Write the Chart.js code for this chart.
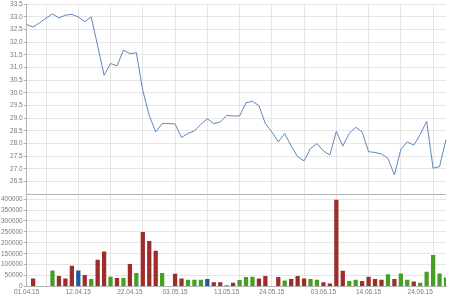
<!DOCTYPE html>
<html>
<head>
<meta charset="utf-8">
<script src="https://cdn.jsdelivr.net/npm/chart.js@4/dist/chart.umd.min.js"></script>
<style>
  html, body { margin: 0; padding: 0; background: #ffffff; }
  #wrap { position: relative; width: 450px; height: 300px; }
</style>
</head>
<body>
<div id="wrap"><canvas id="c" width="450" height="300"></canvas></div>
<script>
// ---- data ----
const slotCount = 66;
const categories = Array.from({ length: slotCount }, (_, i) => String(i));

const tickSlots  = [0, 8, 16, 23, 31, 38, 46, 53, 61];
const tickLabels = ['01.04.15', '12.04.15', '22.04.15', '03.05.15', '13.05.15',
                    '24.05.15', '03.06.15', '14.06.15', '24.06.15'];

const priceTicks  = [26.0, 26.5, 27.0, 27.5, 28.0, 28.5, 29.0, 29.5, 30.0, 30.5,
                     31.0, 31.5, 32.0, 32.5, 33.0, 33.5];
const volumeTicks = [0, 50000, 100000, 150000, 200000, 250000, 300000, 350000, 400000];

const price = [
  32.70, 32.60, 32.77, 32.95, 33.12, 32.96, 33.07, 33.10, 33.00, 32.81,
  33.00, 31.86, 30.70, 31.16, 31.07, 31.69, 31.55, 31.59, 30.09, 29.11,
  28.46, 28.79, 28.79, 28.78, 28.24, 28.40, 28.50, 28.76, 28.98, 28.79,
  28.85, 29.11, 29.09, 29.09, 29.61, 29.67, 29.50, 28.79, 28.46, 28.07,
  28.40, 27.90, 27.48, 27.32, 27.81, 28.00, 27.71, 27.55, 28.49, 27.90,
  28.40, 28.65, 28.46, 27.68, 27.65, 27.59, 27.42, 26.76, 27.77, 28.07,
  27.94, 28.36, 28.88, 27.03, 27.09, 28.16
];

const volume = [
  null, 37000, null, null, 73000, 48000, 37000, 95000, 73000, 53000,
  34000, 123000, 160000, 45000, 39000, 39000, 103000, 62000, 250000, 208000,
  164000, 62000, null, 58000, 37000, 31000, 31000, 31000, 34000, 20000,
  19000, 6000, 17000, 30000, 44000, 45000, 37000, 48000, null, 44000,
  27000, 34000, 48000, 37000, 34000, 31000, 20000, 14000, 397000, 72000,
  25000, 31000, 25000, 45000, 34000, 31000, 56000, 34000, 59000, 31000,
  23000, 17000, 67000, 144000, 59000, 41000
];

// d = down (red), u = up (green), f = flat (blue)
const direction = [
  'd','d','d','d','u','d','d','d','f','d',
  'u','d','d','u','d','u','d','u','d','d',
  'd','u','d','d','d','u','u','u','f','d',
  'd','u','d','u','u','u','d','d','d','d',
  'u','d','d','d','u','u','d','d','d','d',
  'u','u','d','d','d','d','u','d','u','u',
  'd','u','u','u','u','u'
];

// ---- styles ----
const dirColor = { d: '#9c2d2b', u: '#45a021', f: '#1d5a9e' };
const gridColor = '#e6e6e6';
const axisColor = '#b4b4b4';
const textColor = '#7a7a7a';
const tickFont = { family: "'Liberation Sans Narrow', 'Liberation Sans', Arial, sans-serif", size: 6.5, lineHeight: 1 };

new Chart(document.getElementById('c'), {
  data: {
    labels: categories,
    datasets: [
      {
        type: 'line',
        data: price,
        yAxisID: 'yPrice',
        borderColor: '#5f86bf',
        borderWidth: 1,
        pointRadius: 0,
        tension: 0,
        fill: false
      },
      {
        type: 'bar',
        data: volume,
        yAxisID: 'yVol',
        backgroundColor: direction.map(d => dirColor[d]),
        borderWidth: 0,
        categoryPercentage: 1,
        barPercentage: 0.66
      }
    ]
  },
  options: {
    responsive: false,
    animation: false,
    devicePixelRatio: 1,
    layout: { padding: { top: 0, right: 4, bottom: 3, left: 0 } },
    plugins: { legend: { display: false }, tooltip: { enabled: false } },
    scales: {
      x: {
        type: 'category',
        offset: false,
        grid: {
          offset: false,
          drawTicks: false,
          color: ctx => (ctx.index % 5 === 3 ? gridColor : 'rgba(0,0,0,0)')
        },
        border: { color: axisColor },
        ticks: {
          autoSkip: false,
          maxRotation: 0,
          padding: 2,
          color: textColor,
          font: tickFont,
          callback: (v, i) => {
            const k = tickSlots.indexOf(i);
            return k >= 0 ? tickLabels[k] : '';
          }
        }
      },
      yVol: {
        type: 'linear',
        position: 'left',
        stack: 'main',
        stackWeight: 92.9,
        min: 0,
        max: 422300,
        afterBuildTicks: axis => { axis.ticks = volumeTicks.map(v => ({ value: v })); },
        grid: { color: gridColor, tickLength: 3, tickColor: axisColor },
        border: { color: axisColor },
        ticks: {
          autoSkip: false,
          padding: 1,
          color: textColor,
          font: tickFont,
          callback: v => String(v)
        }
      },
      yPrice: {
        type: 'linear',
        position: 'left',
        stack: 'main',
        stackWeight: 191.4,
        min: 26,
        max: 33.5,
        afterBuildTicks: axis => { axis.ticks = priceTicks.map(v => ({ value: v })); },
        grid: {
          color: ctx => (ctx.tick && ctx.tick.value === 26 ? axisColor : gridColor),
          tickLength: 3,
          tickColor: ctx => (ctx.tick && ctx.tick.value === 26 ? 'rgba(0,0,0,0)' : axisColor)
        },
        border: { color: axisColor },
        ticks: {
          autoSkip: false,
          padding: 1,
          color: textColor,
          font: tickFont,
          callback: v => (v === 26 ? '' : Number(v).toFixed(1))
        }
      }
    }
  }
});
</script>
</body>
</html>
